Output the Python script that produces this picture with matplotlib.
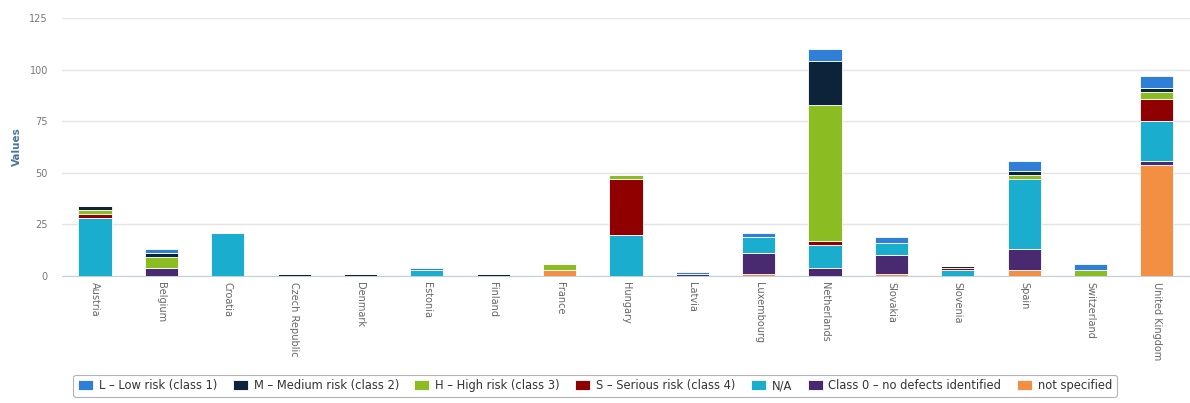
import numpy as np
import matplotlib.pyplot as plt

# countries on the x axis
countries = ["Austria", "Belgium", "Croatia", "Czech Republic", "Denmark", "Estonia",
             "Finland", "France", "Hungary", "Latvia", "Luxembourg", "Netherlands",
             "Slovakia", "Slovenia", "Spain", "Switzerland", "United Kingdom"]

# stacked series (legend order, top of stack first)
low_risk      = [0, 2, 0, 0, 0, 1, 0, 0, 0, 1, 2, 6, 3, 0, 5, 3, 6]
medium_risk   = [2, 2, 0, 1, 1, 0, 1, 0, 0, 0, 0, 21, 0, 1, 2, 0, 2]
high_risk     = [2, 5, 0, 0, 0, 0, 0, 3, 2, 0, 0, 66, 0, 0, 2, 3, 3]
serious_risk  = [2, 0, 0, 0, 0, 0, 0, 0, 27, 0, 0, 2, 0, 1, 0, 0, 11]
not_avail     = [28, 0, 21, 0, 0, 3, 0, 0, 20, 0, 8, 11, 6, 3, 34, 0, 19]
class0        = [0, 4, 0, 0, 0, 0, 0, 0, 0, 1, 10, 4, 9, 0, 10, 0, 2]
not_specified = [0, 0, 0, 0, 0, 0, 0, 3, 0, 0, 1, 0, 1, 0, 3, 0, 54]

names = ["L \u2013 Low risk (class 1)", "M \u2013 Medium risk (class 2)",
         "H \u2013 High risk (class 3)", "S \u2013 Serious risk (class 4)",
         "N/A", "Class 0 \u2013 no defects identified", "not specified"]
series = [low_risk, medium_risk, high_risk, serious_risk, not_avail, class0, not_specified]
colors = ["#2f7ed8", "#0d233a", "#8bbc21", "#910000", "#1aadce", "#492970", "#f28f43"]

fig = plt.figure(figsize=(11.9, 4.03), dpi=100)
ax = fig.add_axes([0.052, 0.315, 0.948, 0.64])

x = np.arange(len(countries))
bottom = np.zeros(len(countries))
handles = [None] * len(series)
# stack from the last series upward, like the original
for i in range(len(series) - 1, -1, -1):
    vals = np.array(series[i], dtype=float)
    handles[i] = ax.bar(x, vals, 0.5, bottom=bottom, color=colors[i],
                        edgecolor="white", linewidth=0.6, label=names[i], zorder=3)
    bottom += vals

ax.set_xlim(-0.5, len(countries) - 0.5)
ax.set_ylim(0, 125)
ax.set_yticks([0, 25, 50, 75, 100, 125])
ax.yaxis.grid(True, color="#e4e4e4", linewidth=1)
ax.set_axisbelow(True)
for s in ["top", "right", "left"]:
    ax.spines[s].set_visible(False)
ax.spines["bottom"].set_color("#c0d0e0")
ax.tick_params(axis="y", length=0, labelsize=7, labelcolor="#777777", pad=10)
ax.tick_params(axis="x", length=0, pad=4)
ax.set_xticks(x)
ax.set_xticklabels(countries, rotation=270, ha="center", va="top",
                   fontsize=7, color="#666666")
ax.set_ylabel("Values", fontsize=7.5, color="#4d759e", fontweight="bold", labelpad=5)

leg = fig.legend(handles, names, loc="center", bbox_to_anchor=(0.5, 0.043), ncol=7,
                 fontsize=8.3, frameon=True, handlelength=1.3, handleheight=1.0,
                 columnspacing=1.35, handletextpad=0.5, borderpad=0.4, fancybox=True)
leg.get_frame().set_edgecolor("#a0a0a0")
leg.get_frame().set_linewidth(0.8)
for t in leg.get_texts():
    t.set_color("#333333")

fig.savefig("out.png", dpi=100)
